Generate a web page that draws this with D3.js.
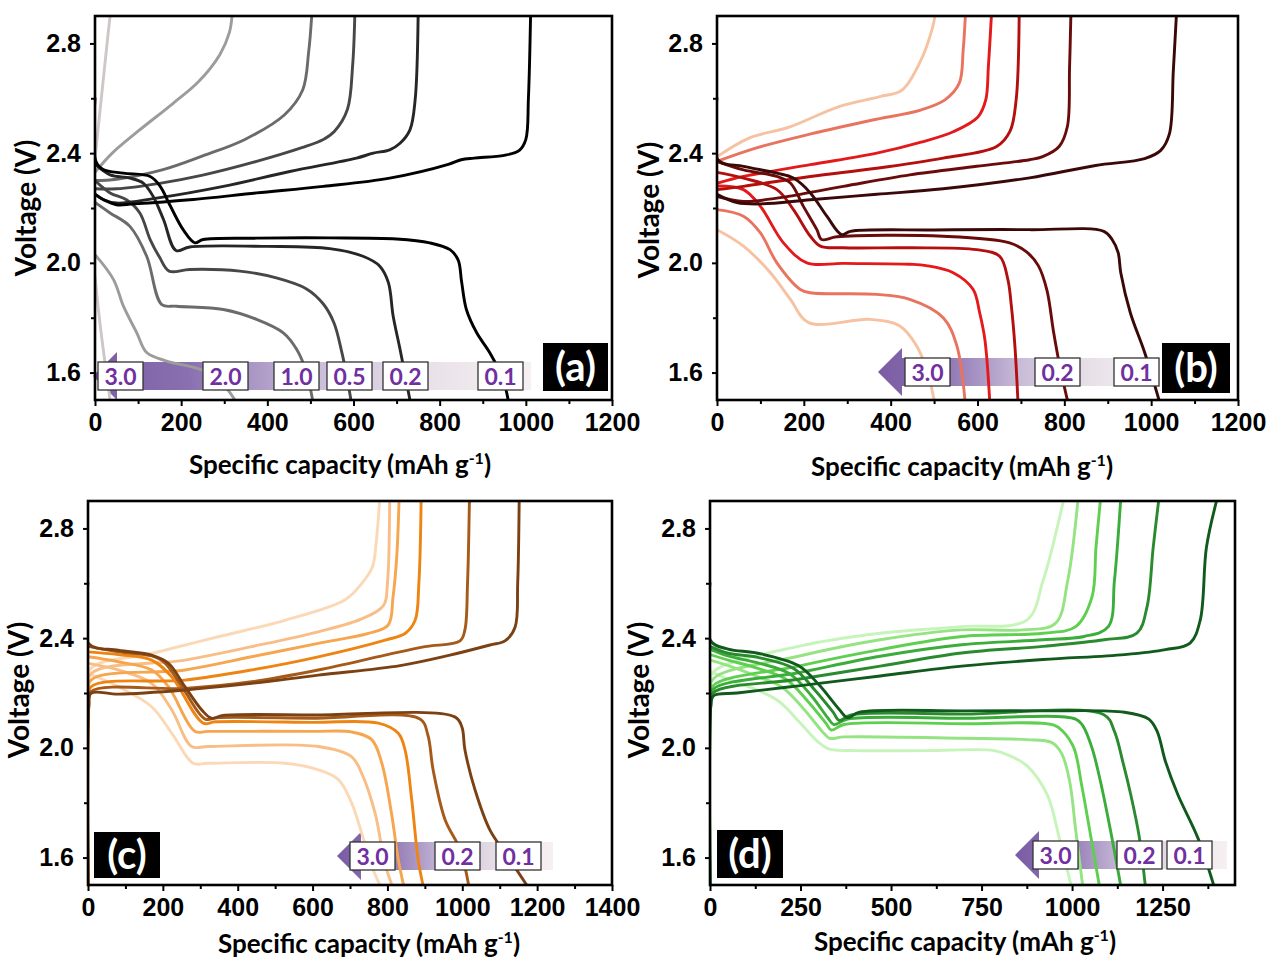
<!DOCTYPE html>
<html>
<head>
<meta charset="utf-8">
<script src="https://cdn.jsdelivr.net/npm/d3@7"></script>
<style>
  body { margin: 0; background: #fff; }
</style>
</head>
<body>
<script>
'use strict';

// rates, ordered 0.1 -> 3.0 (C)
var rates = ['0.1', '0.2', '0.5', '1.0', '2.0', '3.0'];
var legendA = ['3.0', '2.0', '1.0', '0.5', '0.2', '0.1'];
var legendShort = ['3.0', '0.2', '0.1'];

var yMajor = [1.6, 2.0, 2.4, 2.8];
var yMinor = [1.8, 2.2, 2.6];
var xMajor1200 = [0, 200, 400, 600, 800, 1000, 1200];
var xMajor1400 = [0, 200, 400, 600, 800, 1000, 1200, 1400];
var xMajor1250 = [0, 250, 500, 750, 1000, 1250];

var colorsA = ['#000000', '#262626', '#474747', '#6b6b6b', '#9c9c9c', '#cfc6c6'];
var colorsB = ['#3b0808', '#6a0b0b', '#b30f0f', '#e3191b', '#e9735f', '#f6c2a2'];
var colorsC = ['#7c4112', '#a65a1a', '#ee8512', '#f5a64e', '#f8be86', '#fbd8b6'];
var colorsD = ['#0f5a1c', '#2a8a2e', '#3aad3a', '#5fcf50', '#94e482', '#c6f4ba'];

// [capacity mAh/g, voltage V]
var dischargeA = [
  [[0,2.6],[2,2.37],[19,2.34],[66,2.327],[128,2.315],[151,2.28],[174,2.21],[205,2.12],[232,2.073],[251,2.085],[375,2.09],[545,2.091],[700,2.087],[777,2.073],[824,2.048],[843,2.01],[851,1.93],[862,1.83],[886,1.745],[916,1.673],[947,1.576],[959,1.5]],
  [[0,2.36],[35,2.321],[81,2.309],[112,2.291],[135,2.242],[159,2.158],[188,2.045],[220,2.058],[400,2.06],[545,2.052],[622,2.024],[661,1.988],[681,1.928],[692,1.806],[708,1.685],[731,1.5]],
  [[0,2.3],[35,2.255],[73,2.23],[104,2.182],[128,2.085],[150,2.02],[172,1.97],[220,1.976],[336,1.97],[421,1.945],[491,1.905],[530,1.85],[555,1.78],[572,1.68],[584,1.59],[594,1.5]],
  [[0,2.22],[35,2.182],[81,2.133],[120,2.024],[155,1.848],[189,1.842],[298,1.83],[375,1.794],[437,1.745],[468,1.685],[491,1.6],[505,1.5]],
  [[0,2.03],[43,1.939],[66,1.842],[97,1.745],[120,1.673],[166,1.642],[244,1.612],[290,1.57],[325,1.5]],
  [[0,1.95],[10,1.8],[22,1.65],[35,1.5]]
];
var chargeA = [
  [[0,2.25],[20,2.23],[50,2.212],[89,2.215],[220,2.23],[375,2.255],[530,2.279],[684,2.309],[822,2.36],[850,2.376],[880,2.382],[950,2.392],[985,2.41],[1000,2.45],[1006,2.6],[1011,2.9]],
  [[0,2.25],[20,2.23],[50,2.218],[143,2.236],[298,2.279],[452,2.333],[607,2.382],[646,2.4],[684,2.412],[708,2.436],[731,2.485],[743,2.593],[750,2.9]],
  [[0,2.27],[50,2.27],[150,2.29],[250,2.32],[375,2.37],[480,2.42],[530,2.45],[556,2.48],[586,2.56],[598,2.72],[603,2.9]],
  [[0,2.3],[50,2.305],[158,2.34],[250,2.39],[348,2.45],[440,2.54],[482,2.63],[496,2.77],[503,2.9]],
  [[0,2.33],[40,2.4],[100,2.48],[180,2.58],[240,2.66],[290,2.76],[312,2.84],[318,2.9]],
  [[0,2.38],[8,2.5],[18,2.65],[28,2.8],[35,2.9]]
];

var dischargeB = [
  [[0,2.6],[2,2.376],[61,2.352],[138,2.327],[176,2.309],[215,2.255],[253,2.17],[287,2.103],[307,2.115],[500,2.12],[720,2.121],[891,2.115],[910,2.085],[924,2.037],[930,1.964],[952,1.818],[985,1.673],[1018,1.5]],
  [[0,2.37],[61,2.339],[138,2.315],[169,2.291],[199,2.206],[230,2.121],[241,2.085],[276,2.095],[521,2.097],[674,2.073],[713,2.04],[740,1.99],[760,1.9],[775,1.75],[790,1.62],[807,1.5]],
  [[0,2.33],[61,2.309],[138,2.267],[176,2.194],[215,2.097],[238,2.061],[291,2.055],[444,2.055],[598,2.048],[651,2.024],[670,1.939],[678,1.842],[686,1.7],[693,1.5]],
  [[0,2.28],[61,2.267],[100,2.206],[153,2.073],[207,2.0],[291,1.998],[444,1.995],[482,1.99],[544,1.964],[590,1.903],[605,1.818],[617,1.72],[628,1.5]],
  [[0,2.194],[61,2.17],[100,2.109],[138,2.0],[192,1.903],[215,1.891],[368,1.885],[444,1.867],[521,1.8],[552,1.7],[571,1.5]],
  [[0,2.121],[61,2.061],[123,1.964],[169,1.867],[211,1.782],[353,1.794],[421,1.77],[460,1.697],[485,1.6],[500,1.5]]
];
var chargeB = [
  [[0,2.25],[46,2.22],[100,2.215],[215,2.23],[368,2.25],[521,2.27],[720,2.31],[872,2.355],[985,2.38],[1022,2.41],[1042,2.47],[1051,2.7],[1058,2.9]],
  [[0,2.242],[61,2.224],[138,2.236],[291,2.279],[444,2.321],[598,2.352],[720,2.376],[750,2.387],[788,2.424],[807,2.497],[812,2.71],[815,2.9]],
  [[0,2.267],[61,2.279],[215,2.315],[368,2.345],[521,2.382],[644,2.424],[675,2.48],[689,2.594],[696,2.9]],
  [[0,2.29],[61,2.315],[215,2.358],[368,2.4],[470,2.44],[544,2.478],[601,2.532],[619,2.594],[625,2.714],[632,2.9]],
  [[0,2.37],[93,2.42],[216,2.47],[356,2.52],[469,2.557],[525,2.594],[558,2.655],[567,2.776],[572,2.9]],
  [[0,2.387],[74,2.455],[168,2.496],[281,2.57],[375,2.606],[426,2.63],[470,2.74],[496,2.855],[502,2.9]]
];

var dischargeC = [
  [[0,2.6],[2,2.38],[81,2.356],[170,2.338],[215,2.308],[259,2.223],[304,2.138],[330,2.108],[360,2.118],[600,2.12],[980,2.113],[999,2.076],[1007,1.993],[1034,1.847],[1074,1.7],[1127,1.593],[1172,1.5]],
  [[0,2.37],[81,2.35],[170,2.335],[205,2.31],[250,2.225],[313,2.105],[345,2.11],[600,2.108],[887,2.105],[908,2.047],[922,1.92],[954,1.738],[994,1.629],[1017,1.5]],
  [[0,2.35],[81,2.34],[170,2.32],[223,2.26],[308,2.09],[340,2.095],[600,2.093],[776,2.09],[829,2.053],[847,1.993],[865,1.81],[882,1.593],[895,1.5]],
  [[0,2.332],[81,2.314],[170,2.284],[215,2.223],[286,2.06],[320,2.06],[600,2.06],[704,2.058],[758,2.03],[785,1.944],[811,1.76],[829,1.593],[843,1.5]],
  [[0,2.308],[81,2.284],[170,2.235],[224,2.138],[277,2.005],[320,2.005],[615,2.005],[704,1.968],[731,1.908],[767,1.762],[793,1.58],[812,1.5]],
  [[0,2.272],[81,2.223],[170,2.15],[224,2.053],[281,1.944],[320,1.944],[526,1.944],[615,1.92],[669,1.884],[704,1.8],[731,1.69],[758,1.568],[780,1.5]]
];
var chargeC = [
  [[0,1.5],[2,2.15],[8,2.199],[81,2.196],[259,2.211],[437,2.235],[615,2.265],[834,2.3],[967,2.338],[1074,2.375],[1114,2.39],[1141,2.44],[1148,2.6],[1152,2.9]],
  [[0,1.5],[2,2.15],[8,2.205],[259,2.217],[437,2.241],[615,2.284],[794,2.338],[900,2.369],[994,2.39],[1007,2.43],[1014,2.6],[1019,2.9]],
  [[0,1.5],[2,2.16],[8,2.223],[259,2.247],[437,2.284],[615,2.332],[794,2.393],[847,2.417],[874,2.465],[884,2.6],[890,2.9]],
  [[0,1.5],[2,2.17],[8,2.247],[259,2.284],[437,2.332],[615,2.381],[749,2.417],[802,2.448],[815,2.55],[825,2.7],[831,2.9]],
  [[0,1.5],[2,2.18],[8,2.27],[259,2.32],[437,2.369],[615,2.423],[731,2.47],[790,2.52],[800,2.6],[806,2.9]],
  [[0,1.5],[2,2.2],[8,2.29],[170,2.344],[348,2.405],[526,2.465],[687,2.54],[732,2.6],[760,2.66],[770,2.75],[779,2.9]]
];

var dischargeD = [
  [[0,2.6],[2,2.39],[50,2.36],[132,2.345],[244,2.3],[301,2.23],[357,2.14],[380,2.11],[413,2.13],[700,2.135],[920,2.135],[1145,2.13],[1212,2.105],[1235,2.06],[1258,1.95],[1292,1.83],[1348,1.67],[1391,1.5]],
  [[0,2.37],[50,2.345],[132,2.33],[230,2.29],[290,2.21],[340,2.13],[357,2.1],[390,2.12],[700,2.123],[1089,2.12],[1117,2.06],[1140,1.95],[1162,1.83],[1185,1.68],[1202,1.5]],
  [[0,2.36],[50,2.335],[132,2.31],[220,2.27],[280,2.19],[325,2.11],[342,2.085],[380,2.105],[700,2.108],[1010,2.105],[1030,2.08],[1055,2.0],[1078,1.88],[1106,1.7],[1134,1.5]],
  [[0,2.34],[50,2.32],[132,2.29],[210,2.25],[270,2.17],[320,2.09],[335,2.065],[370,2.085],[700,2.088],[950,2.083],[975,2.06],[1005,2.0],[1027,1.86],[1050,1.69],[1075,1.5]],
  [[0,2.32],[50,2.3],[132,2.26],[200,2.22],[260,2.14],[310,2.06],[330,2.035],[370,2.04],[700,2.035],[875,2.03],[943,2.02],[971,1.98],[993,1.88],[1010,1.7],[1029,1.5]],
  [[0,2.28],[50,2.25],[132,2.21],[190,2.17],[250,2.09],[300,2.02],[330,1.995],[400,1.99],[600,1.99],[785,1.99],[830,1.97],[875,1.935],[931,1.83],[965,1.67],[997,1.5]]
];
var chargeD = [
  [[0,1.5],[2,2.15],[10,2.19],[75,2.2],[244,2.226],[470,2.262],[695,2.298],[920,2.322],[1145,2.34],[1258,2.358],[1326,2.382],[1354,2.466],[1371,2.73],[1399,2.9]],
  [[0,1.5],[2,2.15],[8,2.2],[244,2.25],[470,2.298],[695,2.346],[920,2.37],[1089,2.394],[1179,2.418],[1207,2.514],[1224,2.73],[1239,2.9]],
  [[0,1.5],[2,2.16],[8,2.213],[244,2.274],[470,2.334],[695,2.376],[920,2.394],[1033,2.406],[1100,2.442],[1117,2.61],[1134,2.9]],
  [[0,1.5],[2,2.17],[8,2.226],[244,2.298],[470,2.358],[695,2.406],[920,2.418],[1010,2.442],[1055,2.55],[1066,2.73],[1078,2.9]],
  [[0,1.5],[2,2.18],[8,2.25],[244,2.334],[470,2.394],[695,2.43],[864,2.43],[954,2.454],[988,2.61],[1016,2.9]],
  [[0,1.5],[2,2.2],[8,2.274],[244,2.37],[470,2.418],[695,2.442],[875,2.466],[920,2.61],[976,2.9]]
];

var W = 1271, H = 959;
var tickFont = "'Liberation Sans', Arial, sans-serif";
var titleFont = "Lato, 'Open Sans', sans-serif";
var purple = '#7030a0';

var svg = d3.select('body').append('svg')
  .attr('width', W)
  .attr('height', H)
  .style('background', '#fff');

var defs = svg.append('defs');
var grad = defs.append('linearGradient').attr('id', 'arrowGrad')
  .attr('x1', '0%').attr('x2', '100%').attr('y1', '0%').attr('y2', '0%');
[['0%', '#7a5ca4'], ['22%', '#8a70b0'], ['50%', '#c8bbd8'], ['75%', '#e8e0e8'], ['100%', '#f6f0f2']]
  .forEach(function (s) {
    grad.append('stop').attr('offset', s[0]).attr('stop-color', s[1]);
  });

var line = function (x, y) {
  return d3.line()
    .x(function (d) { return x(d[0]); })
    .y(function (d) { return y(d[1]); })
    .curve(d3.curveCatmullRom.alpha(0.5));
};

function styleAxis(sel) {
  sel.select('.domain').remove();
  sel.selectAll('.tick line').attr('stroke', '#000').attr('stroke-width', 2);
  sel.selectAll('.tick text')
    .attr('fill', '#000')
    .style('font-family', tickFont)
    .style('font-weight', 'bold')
    .style('font-size', '25px');
}

function drawPanel(p) {
  var g = svg.append('g');
  var x = d3.scaleLinear().domain([0, p.xMax]).range([p.left, p.right]);
  var y = d3.scaleLinear().domain([1.5, 2.9]).range([p.bottom, p.top]);

  defs.append('clipPath').attr('id', 'clip-' + p.id)
    .append('rect')
    .attr('x', p.left).attr('y', p.top)
    .attr('width', p.right - p.left).attr('height', p.bottom - p.top);

  // rate arrow (behind curves)
  var lg = p.legend;
  var hw = 24, hh = 24, bh = 14;
  var arrow = [
    [lg.tip, lg.cy], [lg.tip + hw, lg.cy - hh], [lg.tip + hw, lg.cy - bh],
    [lg.end, lg.cy - bh], [lg.end, lg.cy + bh], [lg.tip + hw, lg.cy + bh],
    [lg.tip + hw, lg.cy + hh]
  ];
  g.append('path')
    .attr('d', 'M' + arrow.join('L') + 'Z')
    .attr('fill', 'url(#arrowGrad)');

  var mk = line(x, y);
  var curves = g.append('g').attr('clip-path', 'url(#clip-' + p.id + ')');
  d3.range(p.discharge.length - 1, -1, -1).forEach(function (i) {
    [p.discharge[i], p.charge[i]].forEach(function (pts) {
      curves.append('path')
        .attr('d', mk(pts))
        .attr('fill', 'none')
        .attr('stroke', p.colors[i])
        .attr('stroke-width', 2.9)
        .attr('stroke-linejoin', 'round')
        .attr('stroke-linecap', 'round');
    });
  });

  // rate boxes
  lg.labels.forEach(function (t, i) {
    var bx = lg.boxes[i];
    g.append('rect')
      .attr('x', bx).attr('y', lg.cy - 14)
      .attr('width', 45).attr('height', 28)
      .attr('fill', '#fff').attr('stroke', '#333').attr('stroke-width', 1.3);
    g.append('text')
      .attr('x', bx + 22.5).attr('y', lg.cy + 8.5)
      .attr('text-anchor', 'middle')
      .attr('fill', purple)
      .style('font-family', titleFont)
      .style('font-weight', 'bold')
      .style('font-size', '23px')
      .text(t);
  });

  // panel tag
  g.append('rect')
    .attr('x', p.tag.x).attr('y', p.tag.y)
    .attr('width', p.tag.w).attr('height', p.tag.h)
    .attr('fill', '#000');
  g.append('text')
    .attr('x', p.tag.x + p.tag.w / 2).attr('y', p.tag.y + p.tag.h / 2 + 14)
    .attr('text-anchor', 'middle')
    .attr('fill', '#fff')
    .style('font-family', titleFont)
    .style('font-weight', 'bold')
    .style('font-size', '40px')
    .text('(' + p.id + ')');

  // axes
  var xMinor = d3.range(p.minorStep, p.xMax, p.minorStep * 2);
  g.append('g')
    .attr('transform', 'translate(0,' + p.bottom + ')')
    .call(d3.axisBottom(x).tickValues(xMinor).tickSize(4).tickFormat(''))
    .call(styleAxis);
  g.append('g')
    .attr('transform', 'translate(0,' + p.bottom + ')')
    .call(d3.axisBottom(x).tickValues(p.xTicks).tickSize(6).tickPadding(7).tickFormat(d3.format('d')))
    .call(styleAxis);
  g.append('g')
    .attr('transform', 'translate(' + p.left + ',0)')
    .call(d3.axisLeft(y).tickValues(yMinor).tickSize(4).tickFormat(''))
    .call(styleAxis);
  g.append('g')
    .attr('transform', 'translate(' + p.left + ',0)')
    .call(d3.axisLeft(y).tickValues(yMajor).tickSize(5).tickPadding(9).tickFormat(d3.format('.1f')))
    .call(styleAxis);

  g.append('rect')
    .attr('x', p.left).attr('y', p.top)
    .attr('width', p.right - p.left).attr('height', p.bottom - p.top)
    .attr('fill', 'none').attr('stroke', '#000').attr('stroke-width', 2.6);

  var xt = g.append('text')
    .attr('x', p.xTitle[0]).attr('y', p.xTitle[1])
    .attr('text-anchor', 'middle')
    .attr('fill', '#000')
    .style('font-family', titleFont)
    .style('font-weight', 'bold')
    .style('font-size', '26px');
  xt.append('tspan').text('Specific capacity (mAh g');
  xt.append('tspan').attr('dy', -10).style('font-size', '16px').text('-1');
  xt.append('tspan').attr('dy', 10).text(')');

  g.append('text')
    .attr('transform', 'translate(' + p.yTitle[0] + ',' + p.yTitle[1] + ') rotate(-90)')
    .attr('text-anchor', 'middle')
    .attr('fill', '#000')
    .style('font-family', titleFont)
    .style('font-weight', 'bold')
    .style('font-size', '28px')
    .text('Voltage (V)');
}

drawPanel({
  id: 'a', left: 95, right: 612, top: 16, bottom: 400, xMax: 1200,
  xTicks: xMajor1200, minorStep: 100,
  discharge: dischargeA, charge: chargeA, colors: colorsA,
  legend: { tip: 93, end: 531, cy: 376, labels: legendA, boxes: [98, 203, 274, 327, 383, 478] },
  tag: { x: 543, y: 343, w: 65, h: 48 },
  xTitle: [340, 474], yTitle: [36, 208]
});
drawPanel({
  id: 'b', left: 717, right: 1238, top: 16, bottom: 400, xMax: 1200,
  xTicks: xMajor1200, minorStep: 100,
  discharge: dischargeB, charge: chargeB, colors: colorsB,
  legend: { tip: 878, end: 1160, cy: 372, labels: legendShort, boxes: [905, 1035, 1114] },
  tag: { x: 1162, y: 343, w: 68, h: 50 },
  xTitle: [962, 476], yTitle: [659, 210]
});
drawPanel({
  id: 'c', left: 88, right: 612, top: 501, bottom: 885, xMax: 1400,
  xTicks: xMajor1400, minorStep: 100,
  discharge: dischargeC, charge: chargeC, colors: colorsC,
  legend: { tip: 337, end: 553, cy: 856, labels: legendShort, boxes: [350, 435, 496] },
  tag: { x: 94, y: 832, w: 66, h: 46 },
  xTitle: [369, 953], yTitle: [29, 690]
});
drawPanel({
  id: 'd', left: 710, right: 1235, top: 501, bottom: 885, xMax: 1450,
  xTicks: xMajor1250, minorStep: 125,
  discharge: dischargeD, charge: chargeD, colors: colorsD,
  legend: { tip: 1015, end: 1227, cy: 855, labels: legendShort, boxes: [1033, 1117, 1167] },
  tag: { x: 717, y: 830, w: 66, h: 48 },
  xTitle: [965, 951], yTitle: [649, 690]
});
</script>
</body>
</html>
